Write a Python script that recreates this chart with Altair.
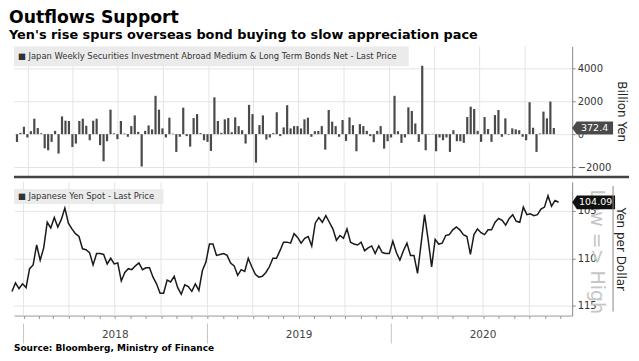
import altair as alt
import pandas as pd

# ---------------- text ----------------
title_text = "Outflows Support"
subtitle_text = "Yen's rise spurs overseas bond buying to slow appreciation pace"
source_text = "Source: Bloomberg, Ministry of Finance"
bond_legend = "\u25a0 Japan Weekly Securities Investment Abroad Medium & Long Term Bonds Net - Last Price"
yen_legend = "\u25a0 Japanese Yen Spot - Last Price"
watermark_text = "Low => High"
bond_axis_title = "Billion Yen"
yen_axis_title = "Yen per Dollar"

# ---------------- data ----------------
first_week = "2017-12-09"

bond_values = [
    -470, 80, 450, -200, 180, 940, 370, 50, -860, -980, -470, 200, -1180, 1080,
    820, 800, -780, -570, 800, 940, 510, -370, 820, 940, -670, -1650, -430, 1490,
    50, -300, 800, 40, -160, 490, 1140, 140, -1960, 200, 530, 290, 2330, 1490,
    350, -200, 1000, 30, -1080, -160, 1610, -120, -760, 980, 1220, 60,
    -370, -470, -1020, 2240, 800, 80, 900, 980, 120, 1020, 490, 240, -570, 1780,
    1220, -1730, 550, 1140, -330, -200, 60, 1330, -120, 410, 1760, 350, 490, 490,
    350, 900, 1000, -160, 180, 200, 490, -940, 1470, 760, 490, -160, 860, -410,
    1020, 550, -1040, 610, 490, 200, -120, -490, 200, 490, -880,
    -430, -200, 2330, 180, -530, -200, 1630, 1410, 650, -470, 4160, -980, -20, 20,
    -1040, -200, -370, -200, -1080, 240, -430, -430, -530, 1040, 1670, 1530, 200,
    -470, 1040, 310, -470, 1160, 1470, -160, 960, -40, 350, 290, 240, -160, -370,
    1940, 390, -1080, 40, 1370, 960, 1980, 372.4,
]

yen_values = [
    113.5, 112.6, 113.2, 112.7, 113.1, 111.1, 110.7, 108.6, 110.2, 108.9, 106.2,
    106.8, 105.7, 106.7, 105.9, 104.7, 106.3, 106.9, 107.4, 107.7, 109.0, 109.1,
    109.4, 110.7, 109.5, 109.5, 109.6, 110.6, 110.0, 110.6, 110.5, 112.4, 111.5,
    111.1, 111.2, 110.8, 110.5, 111.2, 111.0, 111.0, 112.0, 112.7, 113.7, 113.7,
    112.3, 112.5, 111.9, 113.1, 113.8, 112.8, 113.0, 113.5, 112.7, 113.4,
    111.3, 110.4, 108.5, 108.5, 109.7, 109.6, 109.5, 109.7, 110.5, 110.8, 111.8,
    111.2, 111.4, 110.0, 110.9, 111.7, 112.0, 111.9, 111.5, 110.9, 110.0, 110.0,
    109.2, 108.3, 108.3, 108.4, 107.4, 107.8, 108.4, 107.9, 107.7, 108.7, 106.3,
    105.7, 106.2, 105.5, 106.2, 106.9, 108.1, 107.6, 107.9, 106.9, 108.3, 108.5,
    108.6, 108.3, 109.2, 108.9, 108.7, 109.5, 108.7, 109.4, 109.5, 109.5,
    108.2, 109.4, 110.2, 109.2, 108.4, 109.7, 109.7, 111.6, 108.5, 105.4, 108.0,
    110.9, 108.0, 108.5, 108.4, 107.6, 107.5, 107.0, 106.7, 107.0, 107.5, 107.7,
    109.6, 107.5, 106.9, 107.3, 107.5, 107.0, 107.0, 106.2, 105.8, 106.0, 106.5,
    105.8, 105.4, 106.1, 106.2, 104.6, 105.4, 105.3, 105.5, 105.4, 104.8, 104.6,
    103.4, 104.5, 103.9, 104.09,
]

quarter_starts = [
    "2018-01-01", "2018-04-01", "2018-07-01", "2018-10-01",
    "2019-01-01", "2019-04-01", "2019-07-01", "2019-10-01",
    "2020-01-01", "2020-04-01", "2020-07-01", "2020-10-01",
]
year_starts = ["2018-01-01", "2019-01-01", "2020-01-01"]
year_mids = ["2018-07-02", "2019-07-02", "2020-07-01"]
year_labels = ["2018", "2019", "2020"]
bond_ticks = [-2000, 0, 2000, 4000]
yen_ticks = [105, 110, 115]
tick_years = [2018, 2019, 2020]

# ---------------- tables ----------------
weeks = list(pd.date_range(first_week, periods=len(bond_values), freq="7D").strftime("%Y-%m-%dT00:00:00"))
bond_df = pd.DataFrame({"date": weeks, "value": bond_values})
yen_df = pd.DataFrame({"date": weeks[: len(yen_values)], "value": yen_values})
grid_df = pd.DataFrame({"date": [d + "T00:00:00" for d in quarter_starts]})
ysep_df = pd.DataFrame({"date": [d + "T00:00:00" for d in year_starts]})
ylab_df = pd.DataFrame({"date": [d + "T00:00:00" for d in year_mids], "label": year_labels})
bond_last = pd.DataFrame({"value": [bond_values[-1]], "label": [f"{bond_values[-1]}"]})
yen_last = pd.DataFrame({"value": [yen_values[-1]], "label": [f"{yen_values[-1]}"]})
one = pd.DataFrame({"k": [0]})
month_ticks = [alt.DateTime(year=y, month=m, date=1) for y in tick_years for m in range(1, 13)]

W, H1, H2 = 560, 130, 134
FONT = "DejaVu Sans"
GRID = "#e4e4e4"

x_scale = alt.Scale(domain=[alt.DateTime(year=2017, month=12, date=13),
                            alt.DateTime(year=2020, month=12, date=25)])
bond_scale = alt.Scale(domain=[-2545, 5333], nice=False, zero=False)
yen_scale = alt.Scale(domain=[101.95, 116.05], nice=False, zero=False, reverse=True)

common_y = dict(orient="right", grid=True, gridColor=GRID, domainColor="#888",
                tickColor="#888", tickSize=3, labelPadding=2, labelFontSize=10,
                labelColor="#333", titleFontSize=12, titleFontWeight="normal",
                titleColor="#222", labelFont=FONT, titleFont=FONT, format="d")
bond_axis = alt.Axis(values=bond_ticks, title=bond_axis_title, titlePadding=4, **common_y)
yen_axis = alt.Axis(values=yen_ticks, title=yen_axis_title, titlePadding=17, **common_y)
bottom_x_axis = alt.Axis(orient="bottom", values=month_ticks, labels=False, ticks=True,
                         tickSize=3, tickColor="#999", domainColor="#999", grid=False,
                         title=None)

label_shape = "M-1,0L-0.78,-0.32L1,-0.32L1,0.32L-0.78,0.32Z"

# ---------------- top panel ----------------
top_grid = alt.Chart(grid_df).mark_rule(color=GRID, strokeWidth=1).encode(
    x=alt.X("date:T", scale=x_scale, axis=None)
)
bars = alt.Chart(bond_df).mark_bar(color="#4a4a4a", size=2.2).encode(
    x=alt.X("date:T", scale=x_scale, axis=None),
    y=alt.Y("value:Q", scale=bond_scale, axis=bond_axis),
)
top_box = alt.Chart(one).mark_rect(color="#ebebeb").encode(
    x=alt.value(0), x2=alt.value(396), y=alt.value(0), y2=alt.value(20)
)
top_leg = alt.Chart(one).mark_text(align="left", baseline="middle", font=FONT,
                                   fontSize=8.4, color="#333").encode(
    x=alt.value(4), y=alt.value(10), text=alt.value(bond_legend)
)
top_mark = alt.Chart(bond_last).mark_point(shape=label_shape, filled=True, opacity=1,
                                           color="#4a4a4a", size=1681, strokeWidth=0).encode(
    x=alt.value(580.5), y=alt.Y("value:Q", scale=bond_scale, axis=bond_axis)
)
top_val = alt.Chart(bond_last).mark_text(align="center", baseline="middle", font=FONT,
                                         fontSize=9.5, color="white").encode(
    x=alt.value(582.5), y=alt.Y("value:Q", scale=bond_scale, axis=bond_axis),
    text="label:N"
)
separator = alt.Chart(one).mark_rule(color="#444", strokeWidth=2.5).encode(
    x=alt.value(0), x2=alt.value(617), y=alt.value(H1 + 1)
)
top = alt.layer(top_grid, bars, top_box, top_leg, top_mark, top_val, separator).properties(
    width=W, height=H1
)

# ---------------- bottom panel ----------------
wm = alt.Chart(one).mark_text(align="center", baseline="middle", font=FONT, fontSize=19,
                              color="#c6c6c6", angle=90).encode(
    x=alt.value(585), y=alt.value(70), text=alt.value(watermark_text)
)
bot_grid = alt.Chart(grid_df).mark_rule(color=GRID, strokeWidth=1).encode(
    x=alt.X("date:T", scale=x_scale, axis=bottom_x_axis)
)
line = alt.Chart(yen_df).mark_line(color="#1a1a1a", strokeWidth=1.5).encode(
    x=alt.X("date:T", scale=x_scale, axis=bottom_x_axis),
    y=alt.Y("value:Q", scale=yen_scale, axis=yen_axis),
)
bot_box = alt.Chart(one).mark_rect(color="#ebebeb").encode(
    x=alt.value(0), x2=alt.value(150), y=alt.value(7), y2=alt.value(22)
)
bot_leg = alt.Chart(one).mark_text(align="left", baseline="middle", font=FONT,
                                   fontSize=8.4, color="#333").encode(
    x=alt.value(4), y=alt.value(14.5), text=alt.value(yen_legend)
)
bot_mark = alt.Chart(yen_last).mark_point(shape=label_shape, filled=True, opacity=1,
                                          color="#111", size=1849, strokeWidth=0).encode(
    x=alt.value(581.5), y=alt.Y("value:Q", scale=yen_scale, axis=yen_axis)
)
bot_val = alt.Chart(yen_last).mark_text(align="center", baseline="middle", font=FONT,
                                        fontSize=9.5, color="white").encode(
    x=alt.value(583.5), y=alt.Y("value:Q", scale=yen_scale, axis=yen_axis),
    text="label:N"
)
side_rule = alt.Chart(one).mark_rule(color="#888", strokeWidth=1).encode(
    x=alt.value(601), y=alt.value(4), y2=alt.value(130)
)
ysep = alt.Chart(ysep_df).mark_rule(color="#c4c4c4", strokeWidth=1).encode(
    x=alt.X("date:T", scale=x_scale, axis=bottom_x_axis),
    y=alt.value(H2 + 8), y2=alt.value(H2 + 28)
)
ylab = alt.Chart(ylab_df).mark_text(align="center", baseline="middle", font=FONT,
                                    fontSize=10.5, color="#444").encode(
    x=alt.X("date:T", scale=x_scale, axis=bottom_x_axis), y=alt.value(H2 + 20),
    text="label:N"
)
source = alt.Chart(one).mark_text(align="left", baseline="middle", font=FONT, fontSize=9,
                                  fontWeight="bold", color="#000").encode(
    x=alt.value(0), y=alt.value(H2 + 33), text=alt.value(source_text)
)
bottom = alt.layer(wm, bot_grid, line, bot_box, bot_leg, bot_mark, bot_val, side_rule,
                   ysep, ylab, source).properties(width=W, height=H2)

chart = alt.vconcat(top, bottom, spacing=2).properties(
    title=alt.TitleParams(
        text=title_text, subtitle=subtitle_text, anchor="start",
        font=FONT, fontSize=17.3, fontWeight="bold", color="#000",
        subtitleFont=FONT, subtitleFontSize=12.9, subtitleFontWeight="bold",
        subtitleColor="#000", subtitlePadding=3, offset=4,
    ),
    padding={"left": 0, "top": 0, "right": 0, "bottom": 0},
).configure_view(stroke=None)

chart.save("out.html", embed_options={"renderer": "svg", "actions": False})
